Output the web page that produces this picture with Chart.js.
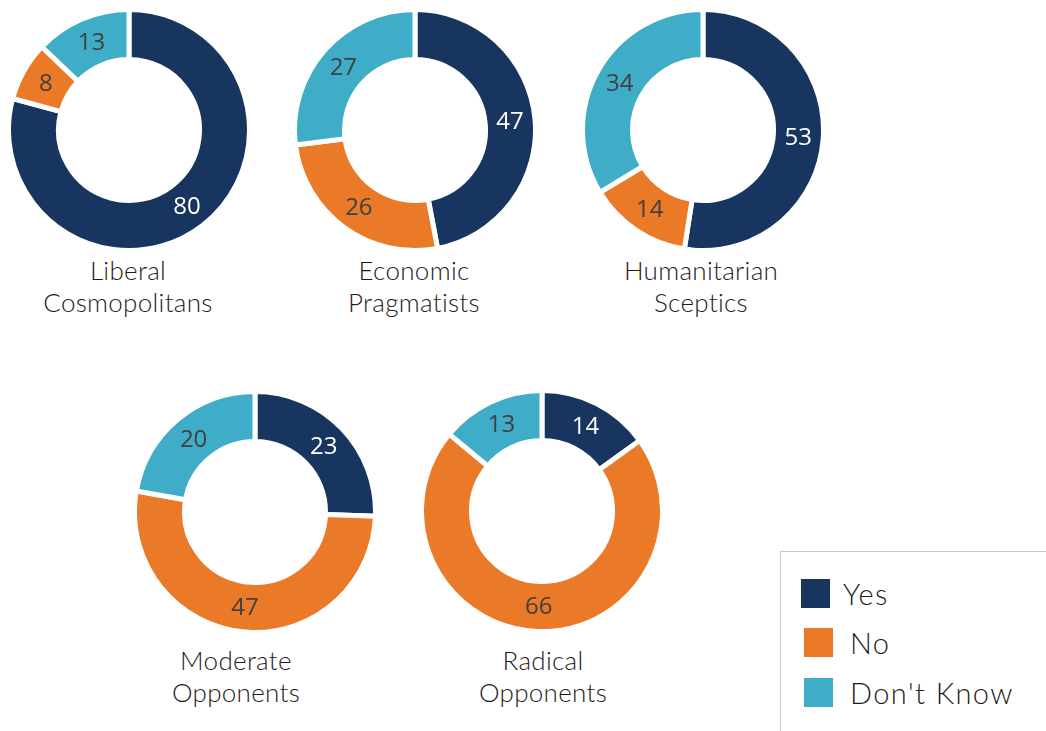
<!DOCTYPE html>
<html>
<head>
<meta charset="utf-8">
<script src="https://cdn.jsdelivr.net/npm/chart.js@4/dist/chart.umd.min.js"></script>
<style>
  html, body { margin:0; padding:0; background:#fff; }
  body { width:1046px; height:731px; position:relative; overflow:hidden; }
  .box { position:absolute; width:246px; height:246px; }
  .title { position:absolute; width:300px; text-align:center; font-family: Lato, "Noto Sans", sans-serif;
           font-size:26px; font-weight:300; line-height:32px; color:#1f1b1c; letter-spacing:0.3px; }
  #legend { position:absolute; left:780px; top:551px; width:300px; height:220px;
            border:1.5px solid #c9c9c9; box-sizing:border-box; }
  .li { position:absolute; font-family: Lato, "Noto Sans", sans-serif; font-size:29px; font-weight:300; color:#1f1b1c;
        letter-spacing:1.4px; line-height:30px; }
  .sw { position:absolute; width:29px; height:29px; }
</style>
</head>
<body>
<div class="box" style="left:5.5px;top:7px"><canvas id="c0"></canvas></div>
<div class="box" style="left:292px;top:6.5px"><canvas id="c1"></canvas></div>
<div class="box" style="left:579.5px;top:7px"><canvas id="c2"></canvas></div>
<div class="box" style="left:132px;top:388.5px"><canvas id="c3"></canvas></div>
<div class="box" style="left:419px;top:388px"><canvas id="c4"></canvas></div>

<div class="title" style="left:-22px;top:254px">Liberal<br>Cosmopolitans</div>
<div class="title" style="left:264px;top:254px">Economic<br>Pragmatists</div>
<div class="title" style="left:551px;top:254px">Humanitarian<br>Sceptics</div>
<div class="title" style="left:86px;top:644px">Moderate<br>Opponents</div>
<div class="title" style="left:393px;top:644px">Radical<br>Opponents</div>

<div id="legend"></div>

<script>
const categories = ["Yes", "No", "Don't Know"];
const groupNames = ["Liberal Cosmopolitans", "Economic Pragmatists", "Humanitarian Sceptics", "Moderate Opponents", "Radical Opponents"];
const liberalCosmopolitans = [80, 8, 13];
const economicPragmatists = [47, 26, 27];
const humanitarianSceptics = [53, 14, 34];
const moderateOpponents = [23, 47, 20];
const radicalOpponents = [14, 66, 13];
const colors = ["#17355e", "#ea7a27", "#3fadc7"];
const labelColors = ["#ffffff", "#404040", "#404040"];

const groups = [liberalCosmopolitans, economicPragmatists, humanitarianSceptics, moderateOpponents, radicalOpponents];

const valueLabels = {
  id: 'valueLabels',
  afterDatasetsDraw(chart) {
    const ctx = chart.ctx;
    const meta = chart.getDatasetMeta(0);
    const data = chart.data.datasets[0].data;
    ctx.save();
    ctx.font = '24px "Open Sans", "Liberation Sans", sans-serif';
    ctx.textAlign = 'center';
    ctx.textBaseline = 'middle';
    meta.data.forEach((arc, i) => {
      const p = arc.tooltipPosition();
      ctx.fillStyle = labelColors[i];
      ctx.fillText(String(data[i]), p.x, p.y + 1);
    });
    ctx.restore();
  }
};

groups.forEach((vals, k) => {
  new Chart(document.getElementById('c' + k), {
    type: 'doughnut',
    data: {
      labels: categories,
      datasets: [{
        label: groupNames[k],
        data: vals,
        backgroundColor: colors,
        borderColor: '#ffffff',
        borderWidth: 5,
        hoverOffset: 0
      }]
    },
    options: {
      responsive: true,
      maintainAspectRatio: false,
      animation: false,
      cutout: '58.5%',
      layout: { padding: 0 },
      plugins: { legend: { display: false }, tooltip: { enabled: false }, title: { display: false } },
      events: []
    },
    plugins: [valueLabels]
  });
});

// legend
const legend = document.getElementById('legend');
const swPos = [[20, 27], [23, 76], [23, 126]];
const txPos = [[62, 27], [69, 76], [69, 126]];
categories.forEach((c, i) => {
  const sw = document.createElement('div');
  sw.className = 'sw';
  sw.style.left = swPos[i][0] + 'px';
  sw.style.top = swPos[i][1] + 'px';
  sw.style.background = colors[i];
  legend.appendChild(sw);
  const t = document.createElement('div');
  t.className = 'li';
  t.style.left = txPos[i][0] + 'px';
  t.style.top = txPos[i][1] + 'px';
  t.textContent = c;
  legend.appendChild(t);
});
</script>
</body>
</html>
